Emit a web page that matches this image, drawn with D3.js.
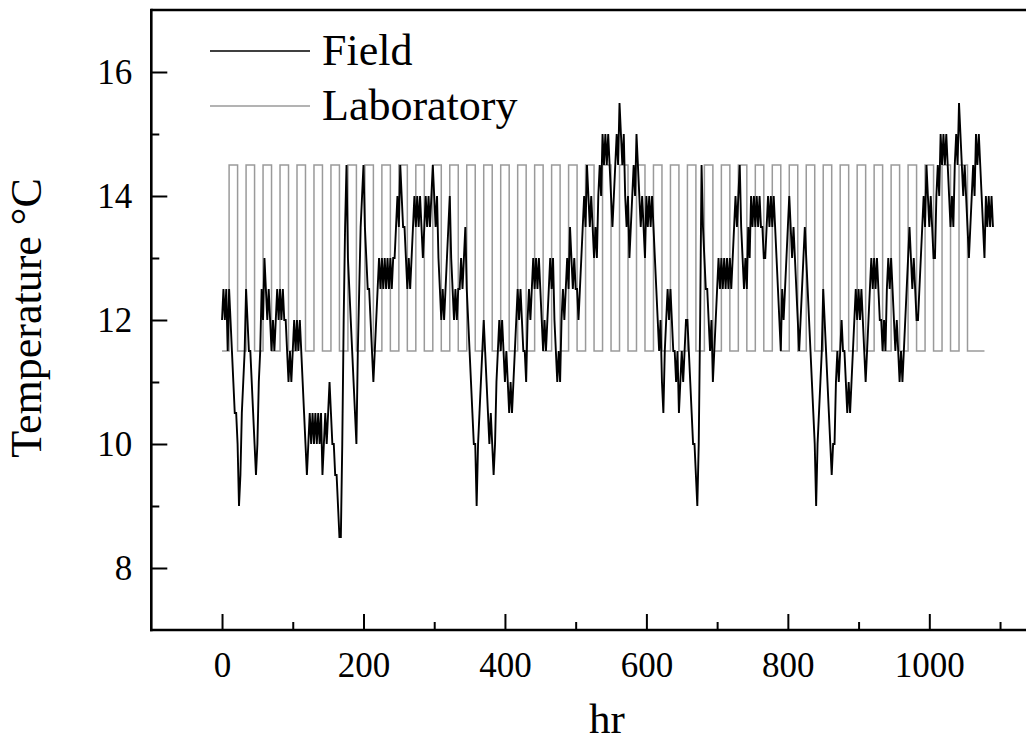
<!DOCTYPE html>
<html>
<head>
<meta charset="utf-8">
<script src="https://cdn.jsdelivr.net/npm/d3@7/dist/d3.min.js"></script>
<style>
  html, body { margin: 0; padding: 0; background: #fff; }
  svg text { font-family: "Liberation Serif", "Times New Roman", Times, serif; fill: #000; }
</style>
</head>
<body>
<svg id="chart" width="1026" height="742"></svg>
<script>
// ---------------- data ----------------
const xMajorTicks = [0, 200, 400, 600, 800, 1000];
const xMinorTicks = [100, 300, 500, 700, 900, 1100];
const yMajorTicks = [8, 10, 12, 14, 16];
const yMinorTicks = [9, 11, 13, 15];

const seriesNames = ["Field", "Laboratory"];

// Field: readings every 2 hours starting at hour 0
const fieldStartHour = 0;
const fieldStepHours = 2;
const fieldValues = [
  12,12.5,12,12.5,11.5,12.5,12,11.5,11,10.5,10.5,10,
  9,9.5,10.5,11,11.5,12.5,12,11.5,11.5,11,10.5,10,
  9.5,10,11,11.5,12.5,12,13,12.5,12,12.5,12,11.5,
  12,11.5,12,12.5,12,12.5,12,12.5,12,12,11.5,11,
  11.5,11,11.5,12,11.5,12,11.5,12,11.5,11,10.5,10,
  9.5,10,10.5,10,10.5,10,10.5,10,10.5,10,10.5,9.5,
  10,10.5,10,10.5,11,10.5,10,10,9.5,9.5,9,8.5,
  8.5,10,12,13.5,14.5,13,12.5,12,11.5,11,10.5,10,
  11.5,12.5,13.5,14,14.5,13.5,13,12.5,12.5,12,11.5,11,
  11.5,12,12.5,13,12.5,13,12.5,13,12.5,13,12.5,13,
  12.5,13,13,13.5,14,13.5,14.5,14,13.5,13.5,13,12.5,
  13,12.5,13,13.5,14,13.5,14,13.5,14,13.5,13,13.5,
  14,13.5,14,13.5,14,14.5,14,13.5,14,13,12.5,12,
  12.5,12,12.5,13,13.5,14,13,12.5,12,12.5,12,12.5,
  12.5,13,12.5,13,13.5,12.5,12,11.5,11,10.5,10,10,
  9,10,10.5,11,11.5,12,11.5,11,10.5,10,10.5,10,
  9.5,10,11,11.5,12,11.5,12,11.5,11,11.5,11,10.5,
  11,10.5,11,11.5,12,12.5,12,12.5,12,11.5,11.5,11,
  12,12.5,12,12.5,13,12.5,13,12.5,13,12.5,12,11.5,
  12,11.5,12,12.5,13,12.5,13,12,11.5,11,11.5,11,
  12,12.5,12,12.5,13,12.5,13.5,13,12.5,13,12.5,12.5,
  12,12.5,13,13.5,14,13.5,14.5,14,13.5,14,13.5,13,
  13.5,13,14,14.5,14,15,14.5,15,14.5,15,14.5,14,
  13.5,14,14.5,15,14.5,15.5,15,14.5,15,14,13.5,14,
  13,13.5,14,14.5,14,15,14.5,14,13.5,14,13.5,13,
  14,13.5,14,13.5,14,13.5,13,12.5,12,11.5,12,11,
  10.5,11.5,12,12.5,12,12.5,12,11.5,11.5,11,11.5,10.5,
  11,11.5,11,11.5,12,12,11.5,11,10.5,10,10,9.5,
  9,10,12,14.5,13.5,13,12.5,12.5,12,11.5,12,11,
  11.5,12,12.5,13,12.5,13,12.5,13,12.5,13,12.5,13,
  12.5,13,13.5,14,13.5,14,14.5,13.5,13,12.5,13,12.5,
  13.5,13,14,13.5,14,13.5,14,13.5,14,13.5,13.5,13,
  13,13.5,14,13.5,14,13.5,14,13.5,13,12.5,12,11.5,
  12.5,12,12.5,13,13.5,14,13.5,13,13.5,13,12.5,12,
  11.5,12,12.5,13,13.5,13,12.5,12,11.5,11,10.5,10,
  9,10,10.5,11,11.5,12.5,12,11.5,11,10.5,10,9.5,
  10,10,11,11.5,11,11.5,12,11.5,11.5,11,10.5,11,
  10.5,11,11.5,12,12.5,12,12.5,12,12.5,12,11.5,11,
  11.5,12,12.5,13,12.5,13,12.5,13,12.5,12,12,11.5,
  12,11.5,12.5,13,12.5,13,12.5,12,11.5,12,11.5,11,
  11.5,11,11.5,12,12.5,13,13.5,13,12.5,13,12.5,12,
  12,12.5,13,13.5,14,13.5,14.5,14,13.5,14,13.5,13,
  13,14,14.5,14,15,14.5,15,14.5,15,14.5,14,13.5,
  14,13.5,14.5,15,14.5,15.5,15,14.5,14,14.5,14,13.5,
  13,13.5,14,14.5,14,15,14.5,15,14.5,14,13.5,13,
  14,13.5,14,13.5,14,13.5
];

// Laboratory: square-wave set points (step changes at these hours)
const labHours = [
  0,10,22,34,46,58,70,82,94,106,118,130,142,154,166,178,190,202,214,226,
  238,250,262,274,286,298,310,322,334,346,358,370,382,394,406,418,430,442,
  454,466,478,490,502,514,526,538,550,562,574,586,598,610,622,634,646,658,
  670,682,694,706,718,730,742,754,766,778,790,802,814,826,838,850,862,874,
  886,898,910,922,934,946,958,970,982,994,1006,1018,1030,1042,1054,1066,
  1078,1090
];
const labValues = [
  11.5,14.5,11.5,14.5,11.5,14.5,11.5,14.5,11.5,14.5,11.5,14.5,11.5,14.5,11.5,14.5,11.5,14.5,11.5,14.5,
  11.5,14.5,11.5,14.5,11.5,14.5,11.5,14.5,11.5,14.5,11.5,14.5,11.5,14.5,11.5,14.5,11.5,14.5,
  11.5,14.5,11.5,14.5,11.5,14.5,11.5,14.5,11.5,14.5,11.5,14.5,11.5,14.5,11.5,14.5,11.5,14.5,
  11.5,14.5,11.5,14.5,11.5,14.5,11.5,14.5,11.5,14.5,11.5,14.5,11.5,14.5,11.5,14.5,11.5,14.5,
  11.5,14.5,11.5,14.5,11.5,14.5,11.5,14.5,11.5,14.5,11.5,14.5,11.5,14.5,
  11.5,11.5
];

// ---------------- layout ----------------
const svg = d3.select("#chart");
const plotLeft = 151.3, plotRight = 1035.4, plotTop = 10, plotBottom = 630;

const x = d3.scaleLinear().domain([-100, 1150]).range([plotLeft, plotRight]);
const y = d3.scaleLinear().domain([7, 17]).range([plotBottom, plotTop]);

const fieldData = fieldValues.map((v, i) => [fieldStartHour + i * fieldStepHours, v]);
const labData = labHours.map((h, i) => [h, labValues[i]]);

const plot = svg.append("g");

// Laboratory (gray square wave)
plot.append("path")
  .datum(labData)
  .attr("fill", "none")
  .attr("stroke", "#9a9a9a")
  .attr("stroke-width", 1.5)
  .attr("d", d3.line().x(d => x(d[0])).y(d => y(d[1])).curve(d3.curveStepAfter));

// Field (black)
plot.append("path")
  .datum(fieldData)
  .attr("fill", "none")
  .attr("stroke", "#000")
  .attr("stroke-width", 1.9)
  .attr("stroke-linejoin", "miter")
  .attr("d", d3.line().x(d => x(d[0])).y(d => y(d[1])));

// ---------------- axes ----------------
const fontTick = 35;
const serif = '"Liberation Serif", "Times New Roman", serif';

// X major
const gx = svg.append("g").attr("transform", `translate(0,${plotBottom})`)
  .call(d3.axisBottom(x).tickValues(xMajorTicks).tickSize(-16).tickSizeOuter(0).tickPadding(30).tickFormat(d3.format("d")));
gx.select(".domain").remove();
gx.selectAll(".tick line").attr("stroke", "#000").attr("stroke-width", 2);
gx.selectAll(".tick text").attr("font-size", fontTick).attr("dy", 0).attr("y", 47)
  .style("font-family", serif);

// X minor
const gxm = svg.append("g").attr("transform", `translate(0,${plotBottom})`)
  .call(d3.axisBottom(x).tickValues(xMinorTicks).tickSize(-8).tickSizeOuter(0).tickFormat(""));
gxm.select(".domain").remove();
gxm.selectAll(".tick line").attr("stroke", "#000").attr("stroke-width", 2);

// Y major
const gy = svg.append("g").attr("transform", `translate(${plotLeft},0)`)
  .call(d3.axisLeft(y).tickValues(yMajorTicks).tickSize(-16).tickSizeOuter(0).tickPadding(19).tickFormat(d3.format("d")));
gy.select(".domain").remove();
gy.selectAll(".tick line").attr("stroke", "#000").attr("stroke-width", 2);
gy.selectAll(".tick text").attr("font-size", fontTick).attr("dy", "0.34em")
  .style("font-family", serif);

// Y minor
const gym = svg.append("g").attr("transform", `translate(${plotLeft},0)`)
  .call(d3.axisLeft(y).tickValues(yMinorTicks).tickSize(-8).tickSizeOuter(0).tickFormat(""));
gym.select(".domain").remove();
gym.selectAll(".tick line").attr("stroke", "#000").attr("stroke-width", 2);

// Frame lines
const frame = svg.append("g").attr("stroke", "#000").attr("stroke-width", 2.6).attr("fill", "none");
frame.append("path").attr("d", `M${plotLeft},${plotTop} H${plotRight}`);
frame.append("path").attr("d", `M${plotLeft},${plotTop - 1.3} V${plotBottom + 1.3}`);
frame.append("path").attr("d", `M${plotLeft - 1.3},${plotBottom} H${plotRight}`);
frame.append("path").attr("d", `M${plotRight},${plotTop} V${plotBottom}`);

// Axis titles
svg.append("text")
  .attr("x", 607).attr("y", 733)
  .attr("text-anchor", "middle")
  .attr("font-size", 43)
  .text("hr");

svg.append("text")
  .attr("transform", "translate(41,318) rotate(-90)")
  .attr("text-anchor", "middle")
  .attr("font-size", 44)
  .text("Temperature °C");

// ---------------- legend ----------------
const legend = svg.append("g");
const legendColors = ["#000", "#9a9a9a"];
const legendLineY = [51, 106];
const legendTextY = [65, 120];
seriesNames.forEach((name, i) => {
  legend.append("line")
    .attr("x1", 210).attr("x2", 310)
    .attr("y1", legendLineY[i]).attr("y2", legendLineY[i])
    .attr("stroke", legendColors[i]).attr("stroke-width", 1.5);
  legend.append("text")
    .attr("x", 322).attr("y", legendTextY[i])
    .attr("font-size", 44)
    .text(name);
});
</script>
</body>
</html>
